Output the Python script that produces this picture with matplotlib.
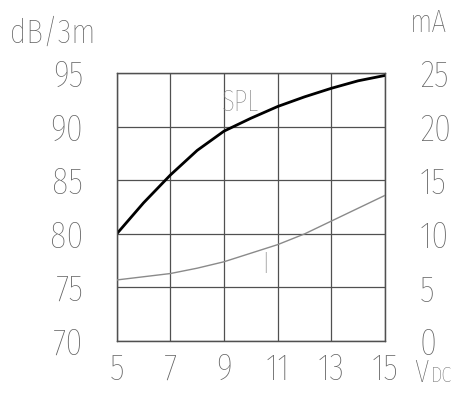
import matplotlib
matplotlib.use("Agg")
import matplotlib.pyplot as plt

# data
vdc = [5, 6, 7, 8, 9, 10, 11, 12, 13, 14, 15]
spl = [80.0, 82.9, 85.5, 87.8, 89.6, 90.8, 91.9, 92.8, 93.6, 94.3, 94.8]
current = [5.7, 6.0, 6.3, 6.8, 7.4, 8.2, 9.0, 10.0, 11.2, 12.4, 13.6]

x_ticks = [5, 7, 9, 11, 13, 15]
db_ticks = [70, 75, 80, 85, 90, 95]
ma_ticks = [0, 5, 10, 15, 20, 25]

plt.rcParams['font.family'] = ['Fira Sans Extra Condensed', 'Roboto Condensed', 'DejaVu Sans']
plt.rcParams['font.weight'] = 'light'
txt = '#606060'
grid_c = '#505050'

fig = plt.figure(figsize=(4.61, 4.01), dpi=100)
ax = fig.add_axes([116.7 / 461, 1 - 341 / 401, (385 - 116.7) / 461, (341 - 73.3) / 401])
ax2 = ax.twinx()

ax.plot(vdc, spl, color='black', lw=2.0, zorder=3)
ax2.plot(vdc, current, color='#8a8a8a', lw=1.0, zorder=3)

ax.set_xlim(5, 15)
ax.set_ylim(70, 95)
ax2.set_ylim(0, 25)
ax.set_xticks(x_ticks)
ax.set_yticks(db_ticks)
ax2.set_yticks(ma_ticks)

ax.grid(True, color=grid_c, lw=0.9)
for a in (ax, ax2):
    for s in a.spines.values():
        s.set_color(grid_c)
        s.set_linewidth(0.9)
    a.tick_params(length=0, colors=txt, labelsize=27)
ax.tick_params(axis='y', pad=24)
ax.tick_params(axis='x', pad=8)
ax2.tick_params(axis='y', pad=25)

ax.text(8.9, 91.5, 'SPL', fontsize=21, color='#808080', va='baseline', ha='left', zorder=4)
ax2.text(10.55, 6.35, 'I', fontsize=21, color='#808080', va='baseline', ha='center')

fig.text(10 / 461, 1 - 43 / 401, 'dB/3m', fontsize=25, color=txt, ha='left', va='baseline')
fig.text(410 / 461, 1 - 32 / 401, 'mA', fontsize=23, color=txt, ha='left', va='baseline')
fig.text(414 / 461, 1 - 382 / 401, 'V', fontsize=23, color=txt, ha='left', va='baseline')
fig.text(431 / 461, 1 - 382 / 401, 'DC', fontsize=16, color=txt, ha='left', va='baseline')

fig.savefig('out.png', dpi=100)
